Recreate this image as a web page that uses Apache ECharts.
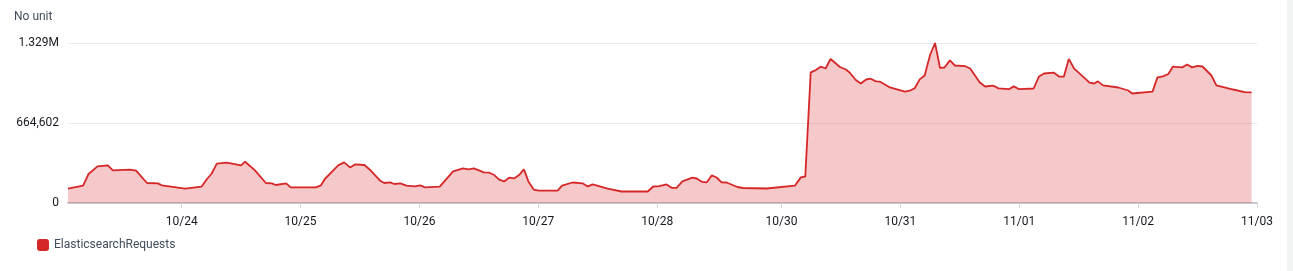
<!DOCTYPE html>
<html>
<head>
<meta charset="utf-8">
<script src="https://cdn.jsdelivr.net/npm/echarts@6/dist/echarts.min.js"></script>
<style>
  html, body { margin: 0; padding: 0; background: #ffffff; }
  #chart { width: 1293px; height: 271px; }
</style>
</head>
<body>
<div id="chart"></div>
<script>
// Hours relative to the "10/24" tick
const hours = [
  -22.95, -19.9, -18.8, -17.0, -14.9, -13.9, -10.4, -9.2, -7.0, -4.8, -4.0, 0.7, 4.0, 5.1, 6.0, 7.1, 9.1, 12.0, 12.8,
  14.8, 17.0, 18.2, 19.0, 21.1, 22.0, 27.1, 28.1, 28.9, 31.6, 32.8, 34.0, 35.0, 36.9, 38.0, 40.0, 40.9, 42.1, 42.9,
  44.1, 45.4, 47.1, 48.2, 49.1, 52.1, 54.8, 56.8, 57.9, 59.0, 61.0, 62.1, 63.0, 64.1, 65.1, 66.1, 67.1, 68.2, 69.1,
  70.0, 71.1, 72.1, 75.9, 76.8, 78.9, 81.0, 82.0, 83.0, 86.0, 88.8, 94.1, 95.2, 96.4, 97.9, 99.0, 99.9, 101.1, 103.1,
  104.0, 105.1, 106.0, 107.0, 108.0, 109.0, 110.0, 112.2, 113.3, 118.1, 123.8, 125.0, 125.9, 127.0, 127.9, 129.0,
  130.0, 131.0, 132.9, 134.1, 134.9, 136.1, 137.1, 138.2, 139.1, 140.2, 141.0, 143.0, 146.0, 147.0, 148.0, 149.0,
  150.0, 151.1, 152.1, 153.1, 154.0, 155.1, 156.1, 158.2, 159.2, 161.1, 162.2, 163.9, 164.9, 167.0, 168.0, 169.1,
  172.0, 173.1, 174.1, 176.1, 177.2, 178.1, 179.1, 180.2, 183.3, 184.2, 185.0, 186.0, 189.1, 191.1, 191.9, 196.0,
  197.0, 198.1, 199.2, 200.1, 202.0, 203.0, 204.0, 205.1, 206.1, 207.9, 208.9, 212.3, 214.6, 216.0
];
const requests = [
  118800, 143700, 240900, 304100, 312400, 270800, 276600, 268300, 166200, 162800, 146200, 118800, 135400, 199400, 240900, 326500, 334800, 312400, 343100,
  270800, 166200, 162800, 149500, 162800, 129600, 129600, 146200, 199400, 312400, 337300, 295700, 320700, 315700, 276600, 187700, 166200, 171100, 157800,
  162800, 143700, 137900, 146200, 129600, 135400, 262500, 287400, 279100, 287400, 254200, 251700, 235100, 193600, 179400, 210200, 204400, 235100, 279100,
  179400, 110500, 102200, 102200, 143700, 170300, 162800, 137900, 154500, 118800, 95500, 95500, 137100, 139600, 154500, 125400, 125400, 179400, 210200,
  203500, 175300, 171100, 229300, 211800, 171100, 170300, 132900, 124600, 120500, 143700, 212700, 220100, 1085000, 1101600, 1132300,
  1117400, 1196300, 1129800, 1109000, 1082500, 1021800, 992700, 1026000, 1032600, 1010200, 1007700, 960300, 924600, 932900, 953700, 1026800,
  1059200, 1229500, 1329204, 1122300, 1125700, 1184600, 1142300, 1136500, 1117400, 1003600, 967800, 974500, 952000, 945400, 968700, 945400,
  951200, 1051700, 1075800, 1082500, 1049200, 1049200, 1197100, 1115700, 999400, 992700, 1010200, 976900, 959500, 934600, 909700, 924600,
  1043400, 1051700, 1071700, 1132300, 1126500, 1150600, 1126500, 1139000, 1134000, 1059200, 976900, 942900, 920500, 918800
];
const xTickHours = [0, 24, 48, 72, 96, 121.1, 145.1, 169.1, 193.1, 217.1];
const xTickLabels = ['10/24', '10/25', '10/26', '10/27', '10/28', '10/30', '10/31', '11/01', '11/02', '11/03'];
const yTickValues = [0, 664602, 1329204];
const yTickLabels = ['0', '664,602', '1.329M'];
const seriesName = 'ElasticsearchRequests';
const unitLabel = 'No unit';

const points = hours.map((h, i) => [h, requests[i]]);
const FONT = 'Roboto, "Noto Sans", sans-serif';

const chart = echarts.init(document.getElementById('chart'), null, { renderer: 'canvas' });
chart.setOption({
  animation: false,
  backgroundColor: '#ffffff',
  textStyle: { fontFamily: FONT },
  grid: { left: 68, right: 36, top: 43, bottom: 68, containLabel: false },
  graphic: [
    { type: 'text', left: 14, top: 11, style: { text: unitLabel, fill: '#414d5c', font: '12px ' + FONT } },
    { type: 'rect', right: 0, top: 0, shape: { width: 6, height: 271 }, style: { fill: '#f2f3f3' } }
  ],
  legend: {
    left: 32, top: 234,
    icon: 'roundRect', itemWidth: 12, itemHeight: 12, itemGap: 10,
    textStyle: { color: '#414d5c', fontSize: 12, fontFamily: FONT },
    data: [seriesName]
  },
  xAxis: {
    type: 'value',
    min: hours[0],
    max: xTickHours[xTickHours.length - 1],
    axisLine: { show: true, lineStyle: { color: '#c6c6cd', width: 2 } },
    axisTick: { show: true, customValues: xTickHours, length: 5, lineStyle: { color: '#d5dbdb', width: 1 } },
    axisLabel: {
      customValues: xTickHours,
      margin: 13,
      color: '#16191f', fontSize: 12, fontFamily: FONT,
      formatter: (v) => {
        const i = xTickHours.findIndex(t => Math.abs(t - v) < 0.01);
        return i >= 0 ? xTickLabels[i] : '';
      }
    },
    splitLine: { show: false }
  },
  yAxis: {
    type: 'value',
    min: 0, max: yTickValues[2], interval: yTickValues[1],
    axisLine: { show: false },
    axisTick: { show: false },
    axisLabel: {
      margin: 9, color: '#16191f', fontSize: 12, fontFamily: FONT,
      formatter: (v) => {
        const i = yTickValues.findIndex(t => Math.abs(t - v) < 1);
        return i >= 0 ? yTickLabels[i] : '';
      }
    },
    splitLine: { show: true, lineStyle: { color: '#e9ebed', width: 1 } }
  },
  series: [{
    name: seriesName,
    type: 'line',
    data: points,
    showSymbol: false,
    clip: false,
    color: '#d62728',
    lineStyle: { color: '#d62728', width: 1.8 },
    areaStyle: { color: '#d62728', opacity: 0.25 },
    z: 3
  }]
});
</script>
</body>
</html>
